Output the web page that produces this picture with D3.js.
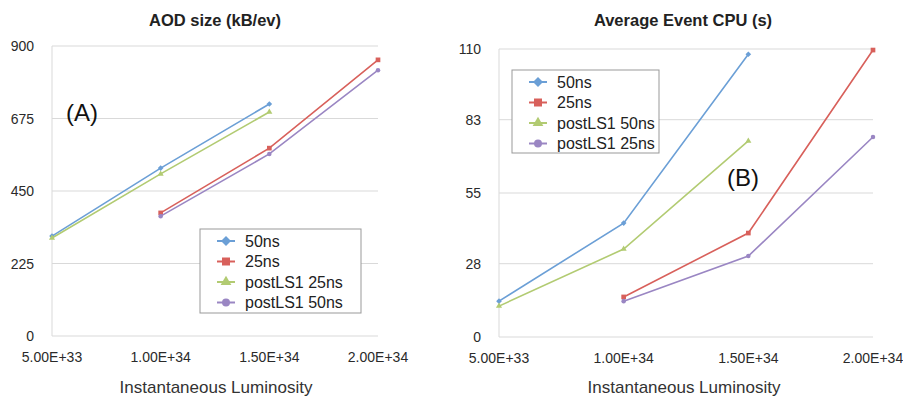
<!DOCTYPE html>
<html>
<head>
<meta charset="utf-8">
<script src="https://cdn.jsdelivr.net/npm/d3@7"></script>
<style>
  body { margin: 0; background: #fff; }
  svg { font-family: "Liberation Sans", Arial, Helvetica, sans-serif; }
</style>
</head>
<body>
<svg id="chart" width="903" height="397"></svg>
<script>
// luminosity values on the x axis
var lumi = [5e33, 1e34, 1.5e34, 2e34];
var xTickLabels = ['5.00E+33', '1.00E+34', '1.50E+34', '2.00E+34'];

// AOD size (kB/ev)
var aodTicks = [0, 225, 450, 675, 900];
var aod50ns = [310, 521, 720, null];
var aod25ns = [null, 382, 583, 857];
var aodPost25ns = [304, 503, 695, null];
var aodPost50ns = [null, 372, 565, 825];
var aodNames = ['50ns', '25ns', 'postLS1 25ns', 'postLS1 50ns'];

// Average event CPU (s)
var cpuTicks = [0, 28, 55, 83, 110];
var cpu50ns = [13.7, 43.5, 108, null];
var cpu25ns = [null, 15.3, 39.7, 109.6];
var cpuPost50ns = [11.8, 33.6, 74.9, null];
var cpuPost25ns = [null, 13.7, 30.9, 76.4];
var cpuNames = ['50ns', '25ns', 'postLS1 50ns', 'postLS1 25ns'];

var colors = ['#6b9fd6', '#d8605b', '#b2cb72', '#9a86c3'];
// diamond is drawn as a square turned 45 degrees
var symbols = [d3.symbolSquare, d3.symbolSquare, d3.symbolTriangle, d3.symbolCircle];
var rotate = [45, 0, 0, 0];

var svg = d3.select('#chart');

function drawPanel(opt) {
  var x = d3.scaleLinear().domain([5e33, 2e34]).range([opt.left, opt.right]);
  var y = d3.scaleLinear().domain([0, opt.ticks[opt.ticks.length - 1]]).range([opt.bottom, opt.top]);
  var g = svg.append('g');

  // grid lines
  g.selectAll('line.grid').data(opt.ticks).enter().append('line')
    .attr('x1', opt.left).attr('x2', opt.right)
    .attr('y1', d => y(d)).attr('y2', d => y(d))
    .attr('stroke', '#d9d9d9').attr('stroke-width', 1);
  g.append('line')
    .attr('x1', opt.left).attr('x2', opt.left)
    .attr('y1', opt.top).attr('y2', opt.bottom)
    .attr('stroke', '#d9d9d9');

  // y tick labels
  g.selectAll('text.yt').data(opt.ticks).enter().append('text')
    .attr('x', opt.left - 18).attr('y', d => y(d) + 5)
    .attr('text-anchor', 'end').attr('font-size', 14).attr('fill', '#2a2a2a')
    .text(d => d);

  // x tick labels
  g.selectAll('text.xt').data(lumi).enter().append('text')
    .attr('x', d => x(d)).attr('y', opt.bottom + 26)
    .attr('text-anchor', 'middle').attr('font-size', 14).attr('fill', '#2a2a2a')
    .text((d, i) => xTickLabels[i]);

  // title and axis label
  g.append('text').attr('x', opt.titleX).attr('y', 26)
    .attr('text-anchor', 'middle').attr('font-size', 16.5).attr('font-weight', 'bold')
    .attr('fill', '#222').text(opt.title);
  g.append('text').attr('x', opt.titleX + 1).attr('y', 393)
    .attr('text-anchor', 'middle').attr('font-size', 17).attr('fill', '#333')
    .text('Instantaneous Luminosity');

  var line = d3.line()
    .defined(d => d != null)
    .x((d, i) => x(lumi[i]))
    .y(d => y(d));

  opt.series.forEach(function(s, k) {
    g.append('path').datum(s)
      .attr('d', line)
      .attr('fill', 'none')
      .attr('stroke', colors[k])
      .attr('stroke-width', 1.6);
    g.selectAll('path.m' + k).data(s.map((v, i) => [lumi[i], v]).filter(p => p[1] != null))
      .enter().append('path')
      .attr('transform', p => 'translate(' + x(p[0]) + ',' + y(p[1]) + ') rotate(' + rotate[k] + ')')
      .attr('d', d3.symbol().type(symbols[k]).size(k == 1 ? 22 : 16))
      .attr('fill', colors[k]);
  });

  // legend
  var lg = opt.legend;
  g.append('rect')
    .attr('x', lg.x).attr('y', lg.y).attr('width', lg.w).attr('height', lg.h)
    .attr('fill', '#fff').attr('stroke', '#999').attr('stroke-width', 1);
  opt.names.forEach(function(n, k) {
    var cy = lg.y + 12 + k * 20.5;
    g.append('line')
      .attr('x1', lg.x + 17).attr('x2', lg.x + 35)
      .attr('y1', cy).attr('y2', cy)
      .attr('stroke', colors[k]).attr('stroke-width', 2);
    g.append('path')
      .attr('transform', 'translate(' + (lg.x + 26) + ',' + cy + ') rotate(' + rotate[k] + ')')
      .attr('d', d3.symbol().type(symbols[k]).size(k == 1 ? 64 : 50))
      .attr('fill', colors[k]);
    g.append('text')
      .attr('x', lg.x + 45).attr('y', cy + 5.5)
      .attr('font-size', 16).attr('fill', '#222')
      .text(n);
  });

  g.append('text').attr('x', opt.tag.x).attr('y', opt.tag.y)
    .attr('font-size', 24).attr('fill', '#111').text(opt.tag.t);
}

drawPanel({
  left: 52, right: 378, top: 46, bottom: 336,
  ticks: aodTicks,
  series: [aod50ns, aod25ns, aodPost25ns, aodPost50ns],
  names: aodNames,
  title: 'AOD size (kB/ev)', titleX: 215,
  legend: {x: 200, y: 229, w: 161, h: 84},
  tag: {x: 66, y: 121, t: '(A)'}
});

drawPanel({
  left: 499, right: 873, top: 49, bottom: 337,
  ticks: cpuTicks,
  series: [cpu50ns, cpu25ns, cpuPost50ns, cpuPost25ns],
  names: cpuNames,
  title: 'Average Event CPU (s)', titleX: 683,
  legend: {x: 512, y: 70, w: 147, h: 83},
  tag: {x: 727, y: 186, t: '(B)'}
});
</script>
</body>
</html>
